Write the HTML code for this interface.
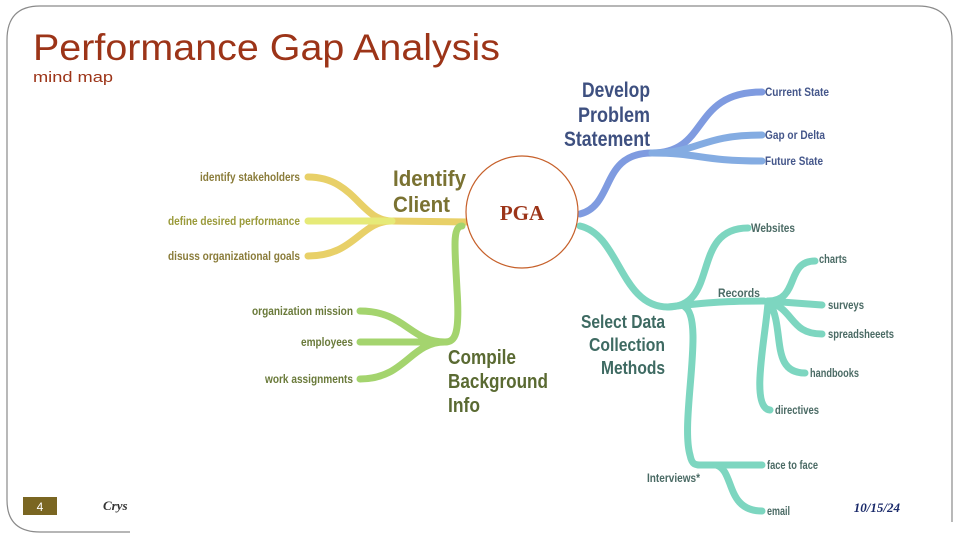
<!DOCTYPE html>
<html><head><meta charset="utf-8"><style>
html,body{margin:0;padding:0;background:#fff;}
svg{display:block;}
.n{font-family:"Liberation Sans",sans-serif;font-weight:bold;}
</style></head><body>
<svg width="960" height="540" viewBox="0 0 960 540" xmlns="http://www.w3.org/2000/svg">
<rect x="0" y="0" width="960" height="540" fill="#fff"/>
<path d="M952,522 L952,40 Q952,6 918,6 L40,6 Q7,6 7,40 L7,500 Q7,532 40,532 L130,532" fill="none" stroke="#8a8a8a" stroke-width="1.2"/>
<text x="33" y="60" font-family="Liberation Sans, sans-serif" font-size="37" fill="#9c3418" textLength="467" lengthAdjust="spacingAndGlyphs">Performance Gap Analysis</text>
<text x="33" y="82" font-family="Liberation Sans, sans-serif" font-size="15" fill="#9c3418" textLength="80" lengthAdjust="spacingAndGlyphs">mind map</text>

<g fill="none" stroke-linecap="round">
<g stroke="#e8d068" stroke-width="7">
<path d="M468,222 L392,221"/>
<path d="M392,221 C360,221 355,177 308,177"/>
<path d="M392,221 C360,221 355,256 308,256"/>
</g>
<path d="M392,221 L308,221" stroke="#e6ea78" stroke-width="7"/>
<g stroke="#a4d46e" stroke-width="7">
<path d="M462,226 C452,226 455,250 457,290 C460,335 455,342 445,342"/>
<path d="M445,342 C410,342 405,311 360,311"/>
<path d="M445,342 L360,342"/>
<path d="M445,342 C410,342 405,379 360,379"/>
</g>
<g stroke="#7f9be0" stroke-width="7">
<path d="M580,214 C615,205 600,153 652,153"/>
<path d="M652,153 C710,153 690,92 762,92"/>
</g>
<g stroke="#84ace2" stroke-width="7">
<path d="M652,153 C700,153 700,135 762,135"/>
<path d="M652,153 C700,153 700,161 762,161"/>
</g>
<g stroke="#7dd6c0" stroke-width="7">
<path d="M580,226 C620,235 620,307 668,307"/>
<path d="M668,307 C720,307 690,228 748,228"/>
<path d="M668,307 C710,302 730,301 764,301"/>
<path d="M685,307 C705,320 680,420 690,455 C692,465 695,465 702,465"/>
<path d="M702,465 C730,465 740,465 762,465"/>
<path d="M716,465 C735,470 725,511 762,511"/>
<path d="M768,301 C800,301 785,261 815,261"/>
<path d="M768,301 L822,305"/>
<path d="M768,301 C795,310 790,334 822,334"/>
<path d="M770,303 C785,330 770,373 805,373"/>
<path d="M768,303 C765,340 750,408 770,410"/>
</g>
</g>

<circle cx="522" cy="212" r="56" fill="#fff" stroke="#c6602a" stroke-width="1.2"/>
<text x="522" y="220" text-anchor="middle" font-family="Liberation Serif, serif" font-weight="bold" font-size="21" fill="#9c3418">PGA</text>

<g class="n" fill="#7a7232" lengthAdjust="spacingAndGlyphs">
<text x="393" y="186" font-size="22" textLength="73" lengthAdjust="spacingAndGlyphs">Identify</text>
<text x="393" y="212" font-size="22" textLength="57" lengthAdjust="spacingAndGlyphs">Client</text>
<g font-size="11.5" fill="#8a7c3a">
<text x="200" y="181" textLength="100" lengthAdjust="spacingAndGlyphs">identify stakeholders</text>
<text x="168" y="225" fill="#9a9a3a" textLength="132" lengthAdjust="spacingAndGlyphs">define desired performance</text>
<text x="168" y="260" textLength="132" lengthAdjust="spacingAndGlyphs">disuss organizational goals</text>
</g>
</g>
<g class="n" fill="#5a6a32">
<text x="448" y="364" font-size="20" textLength="68" lengthAdjust="spacingAndGlyphs">Compile</text>
<text x="448" y="388" font-size="20" textLength="100" lengthAdjust="spacingAndGlyphs">Background</text>
<text x="448" y="412" font-size="20" textLength="32" lengthAdjust="spacingAndGlyphs">Info</text>
<g font-size="11.5" fill="#6a7a3a">
<text x="252" y="315" textLength="101" lengthAdjust="spacingAndGlyphs">organization mission</text>
<text x="301" y="346" textLength="52" lengthAdjust="spacingAndGlyphs">employees</text>
<text x="265" y="383" textLength="88" lengthAdjust="spacingAndGlyphs">work assignments</text>
</g>
</g>
<g class="n" fill="#3e5080">
<g font-size="21">
<text x="582" y="97" textLength="68" lengthAdjust="spacingAndGlyphs">Develop</text>
<text x="578" y="122" textLength="72" lengthAdjust="spacingAndGlyphs">Problem</text>
<text x="564" y="146" textLength="86" lengthAdjust="spacingAndGlyphs">Statement</text>
</g>
<g font-size="11.5" fill="#44568a">
<text x="765" y="96" textLength="64" lengthAdjust="spacingAndGlyphs">Current State</text>
<text x="765" y="139" textLength="60" lengthAdjust="spacingAndGlyphs">Gap or Delta</text>
<text x="765" y="165" textLength="58" lengthAdjust="spacingAndGlyphs">Future State</text>
</g>
</g>
<g class="n" fill="#3e6a62">
<g font-size="18">
<text x="581" y="328" textLength="84" lengthAdjust="spacingAndGlyphs">Select Data</text>
<text x="589" y="351" textLength="76" lengthAdjust="spacingAndGlyphs">Collection</text>
<text x="601" y="374" textLength="64" lengthAdjust="spacingAndGlyphs">Methods</text>
</g>
<g font-size="11.5" fill="#4a6a64">
<text x="751" y="232" textLength="44" lengthAdjust="spacingAndGlyphs">Websites</text>
<text x="718" y="297" textLength="42" lengthAdjust="spacingAndGlyphs">Records</text>
<text x="819" y="263" textLength="28" lengthAdjust="spacingAndGlyphs">charts</text>
<text x="828" y="309" textLength="36" lengthAdjust="spacingAndGlyphs">surveys</text>
<text x="828" y="338" textLength="66" lengthAdjust="spacingAndGlyphs">spreadsheeets</text>
<text x="810" y="377" textLength="49" lengthAdjust="spacingAndGlyphs">handbooks</text>
<text x="775" y="414" textLength="44" lengthAdjust="spacingAndGlyphs">directives</text>
<text x="647" y="482" textLength="53" lengthAdjust="spacingAndGlyphs">Interviews*</text>
<text x="767" y="469" textLength="51" lengthAdjust="spacingAndGlyphs">face to face</text>
<text x="767" y="515" textLength="23" lengthAdjust="spacingAndGlyphs">email</text>
</g>
</g>

<rect x="23" y="497" width="34" height="18" fill="#7a6622"/>
<text x="40" y="511" text-anchor="middle" font-family="Liberation Sans, sans-serif" font-size="12" fill="#fff">4</text>
<text x="103" y="510" font-family="Liberation Serif, serif" font-style="italic" font-weight="bold" font-size="13" fill="#333">Crys</text>
<text x="900" y="512" text-anchor="end" font-family="Liberation Serif, serif" font-style="italic" font-weight="bold" font-size="13" fill="#1a2a6a">10/15/24</text>
</svg>
</body></html>
